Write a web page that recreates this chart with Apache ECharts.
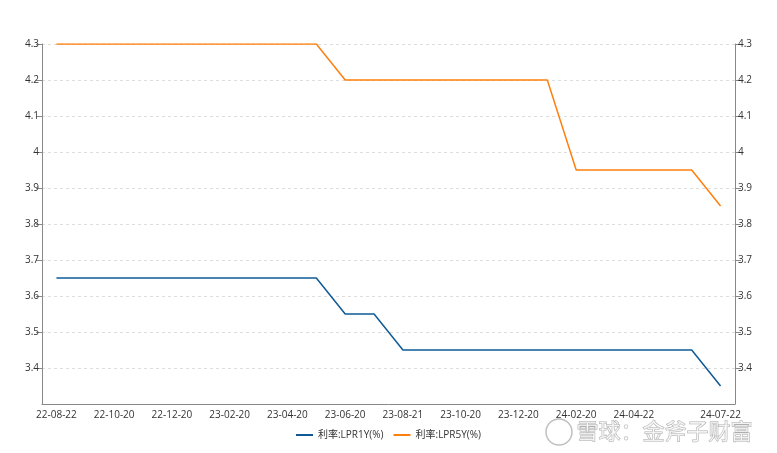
<!DOCTYPE html>
<html><head><meta charset="utf-8">
<script src="https://cdn.jsdelivr.net/npm/echarts@6/dist/echarts.min.js"></script>
<style>html,body{margin:0;padding:0;background:#fff}#c{width:777px;height:453px}</style>
</head><body><div id="c"></div>
<script>
const dates = ["22-08-22","22-09-20","22-10-20","22-11-21","22-12-20","23-01-20","23-02-20","23-03-20","23-04-20","23-05-22","23-06-20","23-07-20","23-08-21","23-09-20","23-10-20","23-11-20","23-12-20","24-01-22","24-02-20","24-03-20","24-04-22","24-05-20","24-06-20","24-07-22"];
const lpr1y = [3.65,3.65,3.65,3.65,3.65,3.65,3.65,3.65,3.65,3.65,3.55,3.55,3.45,3.45,3.45,3.45,3.45,3.45,3.45,3.45,3.45,3.45,3.45,3.35];
const lpr5y = [4.3,4.3,4.3,4.3,4.3,4.3,4.3,4.3,4.3,4.3,4.2,4.2,4.2,4.2,4.2,4.2,4.2,4.2,3.95,3.95,3.95,3.95,3.95,3.85];
const seriesNames = ["利率:LPR1Y(%)","利率:LPR5Y(%)"];
const shownLabels = [0,2,4,6,8,10,12,14,16,18,20,23];

const font = '"Open Sans","Noto Sans CJK SC",sans-serif';
const chart = echarts.init(document.getElementById('c'));
const yAxisBase = {
  type:'value', min:3.3, max:4.3, interval:0.1,
  axisLine:{show:true,lineStyle:{color:'#888'}},
  axisTick:{show:true,length:6,lineStyle:{color:'#888'}},
  axisLabel:{color:'#333',fontSize:10,fontFamily:font,showMinLabel:false,margin:3,
    formatter:v=>String(Math.round(v*100)/100)},
  splitLine:{show:true,lineStyle:{color:'#ddd',type:[3,3]}}
};
chart.setOption({
  animation:false,
  textStyle:{fontFamily:font},
  grid:{left:42,right:42,top:44,bottom:49,containLabel:false},
  legend:{bottom:8,left:'center',itemWidth:17,itemHeight:2,icon:'rect',itemGap:10,
    textStyle:{fontSize:10,color:'#333',fontFamily:font},data:seriesNames},
  xAxis:{type:'category',data:dates,boundaryGap:true,
    axisLine:{lineStyle:{color:'#888'}},
    axisTick:{alignWithLabel:true,length:5,lineStyle:{color:'#888'},interval:(i)=>shownLabels.includes(i)},
    axisLabel:{color:'#333',fontSize:10,fontFamily:font,margin:6,interval:(i)=>shownLabels.includes(i)}},
  yAxis:[Object.assign({},yAxisBase,{position:'left'}),Object.assign({},yAxisBase,{position:'right',splitLine:{show:false}})],
  series:[
    {name:seriesNames[0],type:'line',data:lpr1y,symbol:'none',lineStyle:{width:1.5,color:'#0f5a96'},itemStyle:{color:'#0f5a96'}},
    {name:seriesNames[1],type:'line',data:lpr5y,symbol:'none',lineStyle:{width:1.5,color:'#ff7f0e'},itemStyle:{color:'#ff7f0e'}}
  ],
  graphic:[
    {type:'circle',shape:{cx:559,cy:432,r:13},style:{fill:'rgba(255,255,255,0.6)',stroke:'rgba(150,150,150,0.6)',lineWidth:1.5},z:100},
    {type:'text',left:576,top:419,style:{text:'雪球：金斧子财富',fontSize:22,fontFamily:'"Noto Sans CJK SC",sans-serif',
      fill:'rgba(255,255,255,0.7)',stroke:'rgba(140,140,140,0.7)',lineWidth:1},z:100}
  ]
});
</script></body></html>
